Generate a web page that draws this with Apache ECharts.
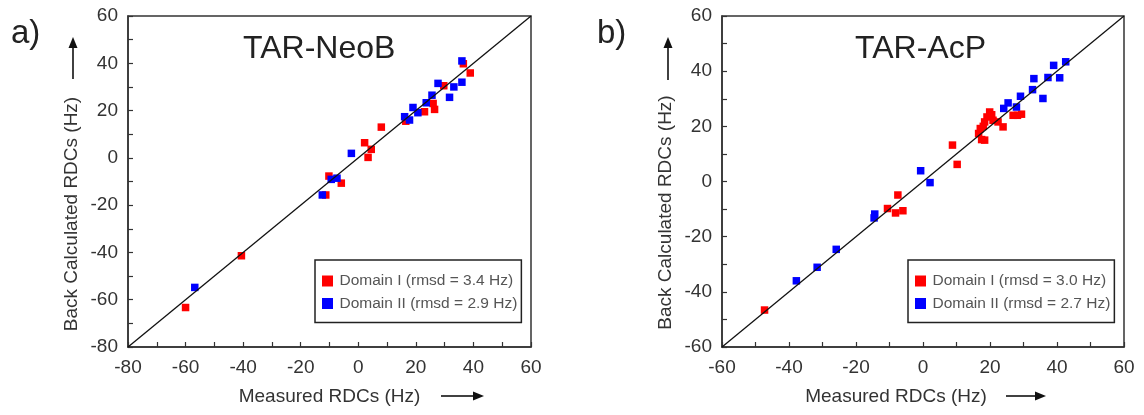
<!DOCTYPE html>
<html>
<head>
<meta charset="utf-8">
<title>RDC back-calculation</title>
<script src="https://cdn.jsdelivr.net/npm/echarts@6/dist/echarts.min.js"></script>
<style>
  html, body { margin: 0; padding: 0; background: #fff; }
  #chart { width: 1144px; height: 415px; }
</style>
</head>
<body>
<div id="chart"></div>
<script>
// ----- Data (measured, back-calculated) in Hz -----
const neoDomainI = [
  [-60, -63.3], [-40.6, -41.4], [-11.3, -15.7], [-10.2, -7.7], [-5.9, -10.7],
  [2.2, 6.4], [3.4, 0.2], [4.5, 3.6], [8.0, 13.0], [16.5, 15.5], [23.0, 19.5],
  [26.0, 23.0], [26.5, 20.5], [29.7, 30.5], [36.5, 39.8], [38.9, 35.9]
];
const neoDomainII = [
  [-56.8, -54.8], [-12.5, -15.7], [-9.4, -9.1], [-7.4, -8.6], [-2.4, 1.9],
  [16.1, 17.4], [17.8, 16.0], [19.0, 21.3], [20.7, 19.1], [23.6, 23.3],
  [25.6, 26.5], [27.7, 31.5], [31.7, 25.6], [33.2, 30.0], [36.0, 32.0], [36.0, 41.0]
];
const acpDomainI = [
  [-47.3, -46.6], [-10.6, -9.8], [-8.2, -11.4], [-6.0, -10.6], [-7.5, -4.9],
  [8.8, 13.2], [10.2, 6.2], [16.6, 17.4], [17.1, 19.2], [17.5, 15.2], [18.4, 15.0],
  [18.0, 20.0], [18.4, 21.6], [19.1, 23.4], [19.9, 25.2], [20.5, 24.2], [20.9, 22.2],
  [22.4, 21.6], [23.9, 19.8], [26.9, 24.0], [28.2, 24.0], [29.4, 24.4]
];
const acpDomainII = [
  [-37.8, -36.0], [-31.6, -31.1], [-25.9, -24.6], [-14.4, -11.8], [-14.6, -13.2],
  [-0.7, 3.9], [2.1, -0.4], [24.1, 26.5], [25.4, 28.5], [27.9, 27.0], [29.1, 30.9],
  [32.7, 33.3], [33.1, 37.3], [35.8, 30.1], [37.3, 37.7], [39.0, 42.1], [40.8, 37.6], [42.6, 43.4]
];
// y = x reference lines
const neoIdentity = [[-80, -80], [60, 60]];
const acpIdentity = [[-60, -60], [60, 60]];

const panelTitles = ['TAR-NeoB', 'TAR-AcP'];
const panelLetters = ['a)', 'b)'];
const legendNeo = ['Domain I (rmsd = 3.4 Hz)', 'Domain II (rmsd = 2.9 Hz)'];
const legendAcp = ['Domain I (rmsd = 3.0 Hz)', 'Domain II (rmsd = 2.7 Hz)'];
const xName = 'Measured RDCs (Hz)';
const yName = 'Back Calculated RDCs (Hz)';

// ----- Helpers -----
const FONT = '"Liberation Sans", Arial, sans-serif';
const INK = '#333';

function axis(min, max, extra) {
  return Object.assign({
    type: 'value',
    min, max, interval: 20,
    splitLine: { show: false },
    axisLine: { onZero: false, lineStyle: { color: INK, width: 1.5 } },
    axisTick: { inside: true, length: 5, lineStyle: { color: INK, width: 1.2 } },
    minorTick: { show: true, splitNumber: 2, length: 5, lineStyle: { color: INK, width: 1.2 } },
    axisLabel: { color: INK, fontSize: 19, fontFamily: FONT },
    nameLocation: 'middle',
    nameTextStyle: { color: INK, fontSize: 19, fontFamily: FONT }
  }, extra);
}

function scatter(name, data, color, idx) {
  return {
    name, type: 'scatter', data,
    xAxisIndex: idx, yAxisIndex: idx,
    symbol: 'rect', symbolSize: 7.5,
    itemStyle: { color, opacity: 1 },
    z: 2
  };
}

function identity(data, idx) {
  return {
    type: 'line', data, xAxisIndex: idx, yAxisIndex: idx,
    symbol: 'none', silent: true,
    lineStyle: { color: '#111', width: 1.3 },
    z: 3
  };
}

function legend(names, left) {
  return {
    data: names, orient: 'vertical', left, top: 260,
    icon: 'path://M0,0h10v10h-10z', itemWidth: 14, itemHeight: 11, itemGap: 6.5,
    padding: [13, 4, 11, 7],
    borderColor: '#222', borderWidth: 1.5, borderRadius: 0,
    itemStyle: { opacity: 1 },
    textStyle: { color: '#555', fontSize: 15.5, fontFamily: FONT },
    selectedMode: false
  };
}

// arrow: tail (x1,y1) -> tip (x2,y2)
function arrow(x1, y1, x2, y2) {
  const dx = x2 - x1, dy = y2 - y1, len = Math.hypot(dx, dy);
  const ux = dx / len, uy = dy / len, hl = 11, hw = 4.5;
  const bx = x2 - ux * hl, by = y2 - uy * hl;
  return {
    type: 'group', silent: true,
    children: [
      { type: 'line', shape: { x1, y1, x2: bx, y2: by }, style: { stroke: '#111', lineWidth: 1.6 } },
      { type: 'polygon', shape: { points: [[x2, y2], [bx - uy * hw, by + ux * hw], [bx + uy * hw, by - ux * hw]] },
        style: { fill: '#111' } }
    ]
  };
}

const chart = echarts.init(document.getElementById('chart'), null, { renderer: 'canvas' });
chart.setOption({
  backgroundColor: '#fff',
  animation: false,
  textStyle: { fontFamily: FONT },
  title: [
    { text: panelTitles[0], left: 243, top: 33, padding: 0,
      textStyle: { color: '#222', fontSize: 32, fontWeight: 'normal', fontFamily: FONT } },
    { text: panelTitles[1], left: 855, top: 33, padding: 0,
      textStyle: { color: '#222', fontSize: 32, fontWeight: 'normal', fontFamily: FONT } }
  ],
  grid: [
    { left: 128, right: 613, top: 16, bottom: 68, show: true, borderColor: INK, borderWidth: 1.5 },
    { left: 722, right: 20, top: 16, bottom: 68, show: true, borderColor: INK, borderWidth: 1.5 }
  ],
  xAxis: [
    axis(-80, 60, { gridIndex: 0, name: xName, nameGap: 40,
      axisLabel: { color: INK, fontSize: 19, fontFamily: FONT, margin: 11 } }),
    axis(-60, 60, { gridIndex: 1, name: xName, nameGap: 40,
      axisLabel: { color: INK, fontSize: 19, fontFamily: FONT, margin: 11 },
      nameTextStyle: { color: INK, fontSize: 19, fontFamily: FONT, padding: [0, 54, 0, 0] } })
  ],
  yAxis: [
    axis(-80, 60, { gridIndex: 0, name: yName, nameGap: 47,
      axisLabel: { color: INK, fontSize: 19, fontFamily: FONT, margin: 10 },
      nameTextStyle: { color: INK, fontSize: 19, fontFamily: FONT, padding: [0, 65, 0, 0] } }),
    axis(-60, 60, { gridIndex: 1, name: yName, nameGap: 47,
      axisLabel: { color: INK, fontSize: 19, fontFamily: FONT, margin: 10 },
      nameTextStyle: { color: INK, fontSize: 19, fontFamily: FONT, padding: [0, 62, 0, 0] } })
  ],
  legend: [legend(legendNeo, 315), legend(legendAcp, 908)],
  series: [
    scatter(legendNeo[0], neoDomainI, '#ff0000', 0),
    scatter(legendNeo[1], neoDomainII, '#0000ff', 0),
    identity(neoIdentity, 0),
    scatter(legendAcp[0], acpDomainI, '#ff0000', 1),
    scatter(legendAcp[1], acpDomainII, '#0000ff', 1),
    identity(acpIdentity, 1)
  ],
  graphic: [
    { type: 'text', left: 11, top: 17, silent: true,
      style: { text: panelLetters[0], fontSize: 33, fontFamily: FONT, fill: '#222' } },
    { type: 'text', left: 597, top: 17, silent: true,
      style: { text: panelLetters[1], fontSize: 33, fontFamily: FONT, fill: '#222' } },
    arrow(73, 79, 73, 37),
    arrow(668, 80, 668, 37),
    arrow(441, 396, 484, 396),
    arrow(1006, 396, 1046, 396)
  ]
});
</script>
</body>
</html>
